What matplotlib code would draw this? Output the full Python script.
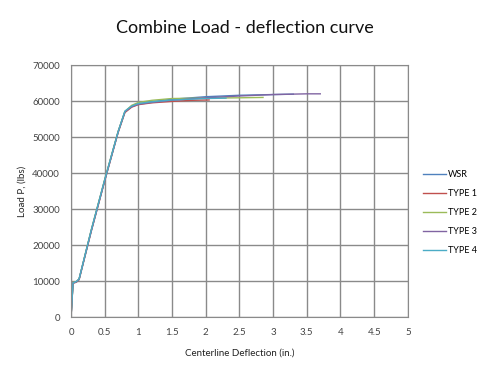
import matplotlib
matplotlib.use("Agg")
import matplotlib.pyplot as plt

plt.rcParams['font.family'] = ['Lato', 'DejaVu Sans']

# Curvas carga - deflexión
wsr_x = [0, 0.03, 0.08, 0.12, 0.3, 0.5, 0.7, 0.8, 0.9, 1.0, 1.2, 1.5, 2.0, 2.5, 3.0, 3.3]
wsr_y = [0, 9500, 9800, 10500, 24000, 38000, 51500, 57000, 58500, 59200, 59800, 60500, 61200, 61600, 61800, 61900]

type1_x = [0, 0.03, 0.08, 0.12, 0.3, 0.5, 0.7, 0.8, 0.9, 1.0, 1.2, 1.5, 1.8, 2.05]
type1_y = [0, 9400, 9700, 10400, 23800, 37800, 51300, 56800, 58300, 59000, 59500, 59900, 60200, 60300]

type2_x = [0, 0.03, 0.08, 0.12, 0.3, 0.5, 0.7, 0.8, 0.9, 1.0, 1.2, 1.5, 2.0, 2.5, 2.85]
type2_y = [0, 9600, 9900, 10600, 24200, 38200, 51600, 57100, 58800, 59600, 60200, 60700, 60800, 60900, 61000]

type3_x = [0, 0.03, 0.08, 0.12, 0.3, 0.5, 0.7, 0.8, 0.9, 1.0, 1.2, 1.5, 2.0, 2.5, 3.0, 3.5, 3.7]
type3_y = [0, 9500, 9800, 10500, 23900, 37900, 51400, 57000, 58400, 59100, 59600, 60200, 60900, 61400, 61800, 62000, 62000]

type4_x = [0, 0.03, 0.08, 0.12, 0.3, 0.5, 0.7, 0.8, 0.9, 1.0, 1.2, 1.5, 2.0, 2.3]
type4_y = [0, 9500, 9900, 10600, 24100, 38100, 51500, 57200, 58600, 59300, 59800, 60300, 60700, 60800]

series = [
    ("WSR", wsr_x, wsr_y, "#4F81BD"),
    ("TYPE 1", type1_x, type1_y, "#C0504D"),
    ("TYPE 2", type2_x, type2_y, "#9BBB59"),
    ("TYPE 3", type3_x, type3_y, "#8064A2"),
    ("TYPE 4", type4_x, type4_y, "#4BACC6"),
]

fig = plt.figure(figsize=(4.84, 3.78), dpi=100)
ax = fig.add_axes([0.1467, 0.161, 0.696, 0.667])

for name, xs, ys, color in series:
    ax.plot(xs, ys, color=color, lw=1.0, label=name)

ax.set_xlim(0, 5)
ax.set_ylim(0, 70000)
ax.set_xticks([0, 0.5, 1, 1.5, 2, 2.5, 3, 3.5, 4, 4.5, 5])
ax.set_xticklabels(["0", "0.5", "1", "1.5", "2", "2.5", "3", "3.5", "4", "4.5", "5"])
ax.set_yticks(range(0, 70001, 10000))
ax.grid(True, color="#8a8a8a", lw=1.0)
ax.set_axisbelow(True)
for s in ax.spines.values():
    s.set_color("#8a8a8a")
ax.tick_params(length=0, labelsize=7, colors="#444444", pad=8)

ax.set_xlabel("Centerline Deflection (in.)", fontsize=7, color="#222222", labelpad=8)
ax.set_ylabel("Load P, (lbs)", fontsize=7, color="#222222", labelpad=4)
fig.text(0.505, 0.925, "Combine Load - deflection curve", ha="center", va="center", fontsize=13, color="#111111")

leg = ax.legend(loc="center left", bbox_to_anchor=(1.02, 0.415), frameon=False, fontsize=6.5,
                handlelength=2.6, labelspacing=1.1, handletextpad=0.2)

fig.savefig("out.png", dpi=100)
